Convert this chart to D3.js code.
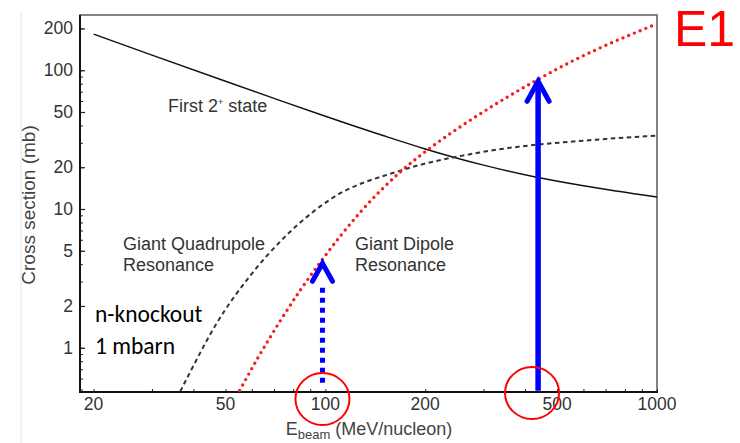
<!DOCTYPE html>
<html>
<head>
<meta charset="utf-8">
<script src="https://cdn.jsdelivr.net/npm/d3@7"></script>
<style>
  html, body { margin: 0; padding: 0; background: #fff; }
  svg { display: block; }
  .tick-label { font-family: "Liberation Sans", Arial, sans-serif; font-size: 17.5px; fill: #333; }
</style>
</head>
<body>
<svg id="chart" width="740" height="443"></svg>
<script>
// Beam energy (MeV/nucleon) and cross sections (mb) for each excitation
const energyFirst2 = [20, 30, 50, 70, 100, 150, 200, 300, 430, 600, 1000];
const sigmaFirst2 = [182, 128.5, 83.2, 62.7, 46.6, 33.7, 27.1, 20.7, 17.0, 14.7, 12.2];

const energyGQR = [35.6, 39, 47, 59, 76, 105, 167, 291, 668, 1000];
const sigmaGQR = [0.43, 0.66, 1.5, 3.25, 6.4, 12, 18.8, 25.5, 31.7, 33.8];

const energyGDR = [54, 55.5, 63, 72.7, 84, 97, 129, 167, 220, 291, 432, 582, 668, 1000];
const sigmaGDR = [0.45, 0.506, 0.87, 1.53, 2.6, 4.2, 9.8, 18.2, 30.6, 48, 84.4, 123, 143.5, 216];

// Tick values
const xTicks = [20, 50, 100, 200, 500, 1000];
const yTicks = [1, 2, 5, 10, 20, 50, 100, 200];

// Arrows marking beam energies: energy, start and end cross section
const arrowEnergy = [98, 438];
const arrowFrom = [0.56, 0.49];
const arrowTo = [4.2, 86];
const arrowDotted = [true, false];

// Circled energies on the x axis
const circledEnergy = [98, 420];

const svg = d3.select("#chart");
const pLeft = 80, pRight = 657, pTop = 15, pBottom = 392;

const x = d3.scaleLog().domain([18.2, 1000]).range([pLeft, pRight]);
const y = d3.scaleLog().domain([0.48, 250]).range([pBottom, pTop]);

// faint page edge line
svg.append("line").attr("x1", 21).attr("x2", 21).attr("y1", 12).attr("y2", 443)
  .attr("stroke", "#e4e4e4").attr("stroke-width", 1);

// clip for curves
svg.append("clipPath").attr("id", "plot-clip")
  .append("rect").attr("x", pLeft).attr("y", pTop).attr("width", pRight - pLeft).attr("height", pBottom - pTop);

// frame
svg.append("rect").attr("x", pLeft).attr("y", pTop).attr("width", pRight - pLeft).attr("height", pBottom - pTop)
  .attr("fill", "none").attr("stroke", "#666").attr("stroke-width", 1.6);

// axes with inward ticks
const yMinor = [];
for (let k = -1; k <= 2; k++) for (let m = 1; m <= 9; m++) {
  const v = m * Math.pow(10, k);
  if (v >= 0.48 && v <= 250) yMinor.push(v);
}
const xMinor = [];
for (let k = 1; k <= 3; k++) for (let m = 1; m <= 9; m++) {
  const v = m * Math.pow(10, k);
  if (v >= 18.2 && v <= 1000) xMinor.push(v);
}

svg.append("g").attr("transform", `translate(${pLeft},0)`)
  .call(d3.axisRight(y).tickValues(yMinor).tickSize(3).tickFormat(""))
  .call(g => g.select(".domain").remove())
  .call(g => g.selectAll(".tick line").attr("stroke", "#222").attr("stroke-width", 1));
svg.append("g").attr("transform", `translate(${pLeft},0)`)
  .call(d3.axisRight(y).tickValues(yTicks).tickSize(5).tickFormat(""))
  .call(g => g.select(".domain").remove())
  .call(g => g.selectAll(".tick line").attr("stroke", "#222").attr("stroke-width", 1.2));

svg.append("g").attr("transform", `translate(0,${pBottom})`)
  .call(d3.axisTop(x).tickValues(xMinor).tickSize(3).tickFormat(""))
  .call(g => g.select(".domain").remove())
  .call(g => g.selectAll(".tick line").attr("stroke", "#222").attr("stroke-width", 1));

// axis lines
svg.append("line").attr("x1", pLeft).attr("x2", pLeft).attr("y1", pTop).attr("y2", pBottom + 1)
  .attr("stroke", "#111").attr("stroke-width", 2);
svg.append("line").attr("x1", pLeft - 1).attr("x2", pRight + 1).attr("y1", pBottom).attr("y2", pBottom)
  .attr("stroke", "#111").attr("stroke-width", 2);

// tick labels
svg.append("g").selectAll("text").data(yTicks).join("text")
  .attr("class", "tick-label")
  .attr("x", 73).attr("y", d => y(d) + 6)
  .attr("text-anchor", "end").text(d => d);
svg.append("g").selectAll("text").data(xTicks).join("text")
  .attr("class", "tick-label")
  .attr("x", d => x(d)).attr("y", 410)
  .attr("text-anchor", "middle").text(d => d);

// axis titles
const font = "Liberation Sans, Arial, sans-serif";
svg.append("text")
  .attr("transform", "translate(35,205) rotate(-90)")
  .attr("text-anchor", "middle")
  .style("font-family", font).style("font-size", "19px").style("fill", "#444")
  .text("Cross section (mb)");
const xt = svg.append("text")
  .attr("x", 369).attr("y", 435).attr("text-anchor", "middle")
  .style("font-family", font).style("font-size", "18px").style("fill", "#444");
xt.append("tspan").text("E");
xt.append("tspan").attr("dy", 3.5).style("font-size", "13px").text("beam");
xt.append("tspan").attr("dy", -3.5).text(" (MeV/nucleon)");

// curves
const line = d3.line().x(d => x(d[0])).y(d => y(d[1])).curve(d3.curveMonotoneX);
const curves = svg.append("g").attr("clip-path", "url(#plot-clip)");

curves.append("path").datum(d3.zip(energyFirst2, sigmaFirst2))
  .attr("d", line).attr("fill", "none").attr("stroke", "#111").attr("stroke-width", 1.5);

curves.append("path").datum(d3.zip(energyGQR, sigmaGQR))
  .attr("d", line).attr("fill", "none").attr("stroke", "#333").attr("stroke-width", 2)
  .attr("stroke-dasharray", "4.5 3.5");

curves.append("path").datum(d3.zip(energyGDR, sigmaGDR))
  .attr("d", line).attr("fill", "none").attr("stroke", "#f51e1e").attr("stroke-width", 3.4)
  .attr("stroke-linecap", "round").attr("stroke-dasharray", "0 6.2");

// curve labels
const lab = (tx, ty, txt) => svg.append("text").attr("x", tx).attr("y", ty)
  .style("font-family", font).style("font-size", "18px").style("fill", "#333").text(txt);
const f2 = lab(168, 112, "First 2");
f2.append("tspan").attr("dy", -7).style("font-size", "9px").text("+");
f2.append("tspan").attr("dy", 7).text(" state");
lab(123, 250, "Giant Quadrupole");
lab(123, 271, "Resonance");
lab(355, 250, "Giant Dipole");
lab(355, 271, "Resonance");

// annotation text
const calibri = "Carlito, Lato, 'Open Sans', sans-serif";
svg.append("text").attr("x", 95).attr("y", 322)
  .style("font-family", calibri).style("font-size", "23.5px").style("fill", "#000").text("n-knockout");
svg.append("text").attr("x", 95).attr("y", 354)
  .style("font-family", calibri).style("font-size", "23.5px").style("fill", "#000").text("1 mbarn");
svg.append("text").attr("x", 674).attr("y", 46)
  .style("font-family", "Liberation Sans, Arial, sans-serif").style("font-size", "50px")
  .style("fill", "#ff0000").text("E1");

// arrows
const arrows = svg.append("g");
arrowEnergy.forEach((e, i) => {
  const ax = x(e), y0 = y(arrowFrom[i]), y1 = y(arrowTo[i]);
  const headH = arrowDotted[i] ? 20 : 22, headW = arrowDotted[i] ? 10 : 11;
  arrows.append("line")
    .attr("x1", ax).attr("x2", ax)
    .attr("y1", y0).attr("y2", arrowDotted[i] ? y1 + headH + 6 : y1 + 3)
    .attr("stroke", "#0000ff").attr("stroke-width", arrowDotted[i] ? 5 : 5.5)
    .attr("stroke-dasharray", arrowDotted[i] ? "5 5" : null);
  arrows.append("path")
    .attr("d", `M${ax - headW},${y1 + headH} L${ax},${y1 + 2} L${ax + headW},${y1 + headH}`)
    .attr("fill", "none").attr("stroke", "#0000ff").attr("stroke-width", 5)
    .attr("stroke-linecap", "round").attr("stroke-linejoin", "miter");
});

// circled energies
svg.append("g").selectAll("ellipse").data(circledEnergy).join("ellipse")
  .attr("cx", d => x(d)).attr("cy", (d, i) => i === 0 ? 399 : 393)
  .attr("rx", 27).attr("ry", 26)
  .attr("fill", "none").attr("stroke", "#ff0000").attr("stroke-width", 2);
</script>
</body>
</html>
